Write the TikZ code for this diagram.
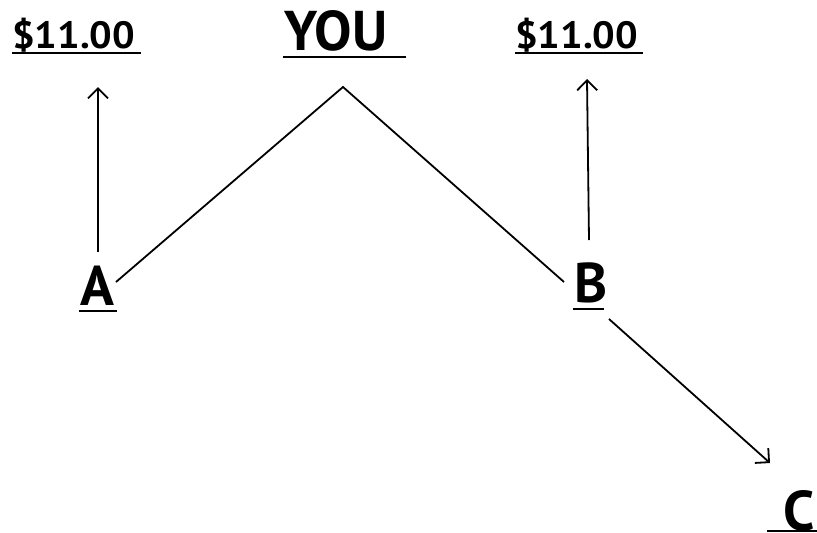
\documentclass[tikz,border=0pt]{standalone}
\usepackage{fontspec}
\setmainfont{PT Sans}
\usetikzlibrary{arrows.meta}
\begin{document}
\begin{tikzpicture}[x=1pt,y=-1pt,
  lbl/.style={inner sep=0pt, anchor=base west},
  small/.style={lbl, font=\fontsize{38}{38}\selectfont\bfseries},
  big/.style={lbl, font=\fontsize{56}{56}\selectfont\bfseries},
  uline/.style={line width=2.6pt},
  conn/.style={line width=1.8pt},
  arr/.style={conn, -{Straight Barb[length=10pt,width=20pt,line width=1.8pt]}}]
\useasboundingbox (0,0) rectangle (817,533);
% labels
\node[small, xscale=1.05] (p1) at (12,48) {\$11.00};
\node[big] (you) at (284,50) {YOU};
\node[small, xscale=1.05] (p2) at (515,48) {\$11.00};
\node[big] (a) at (80,305) {A};
\node[big] (b) at (574,302) {B};
\node[big] (c) at (783,530) {C};
% underlines
\draw[uline] (12,53) -- (141,53);
\draw[uline] (283,57) -- (406,57);
\draw[uline] (515,53) -- (643,53);
\draw[uline] (79,311) -- (117,311);
\draw[uline] (573,309) -- (604,309);
\draw[uline] (767,531) -- (817,531);
% connector ends
\coordinate (apex) at (343,87);
\coordinate (aup) at (98,252);
\coordinate (atip) at (98,87);
\coordinate (aside) at (116,282);
\coordinate (bside) at (564,282);
\coordinate (bup) at (589,240);
\coordinate (btip) at (587,79);
\coordinate (bdown) at (609,319);
\coordinate (ctip) at (770,463);
% connectors
\draw[arr] (aup) -- (atip);
\draw[conn] (aside) -- (apex) -- (bside);
\draw[arr] (bup) -- (btip);
\draw[arr] (bdown) -- (ctip);
\end{tikzpicture}
\end{document}
